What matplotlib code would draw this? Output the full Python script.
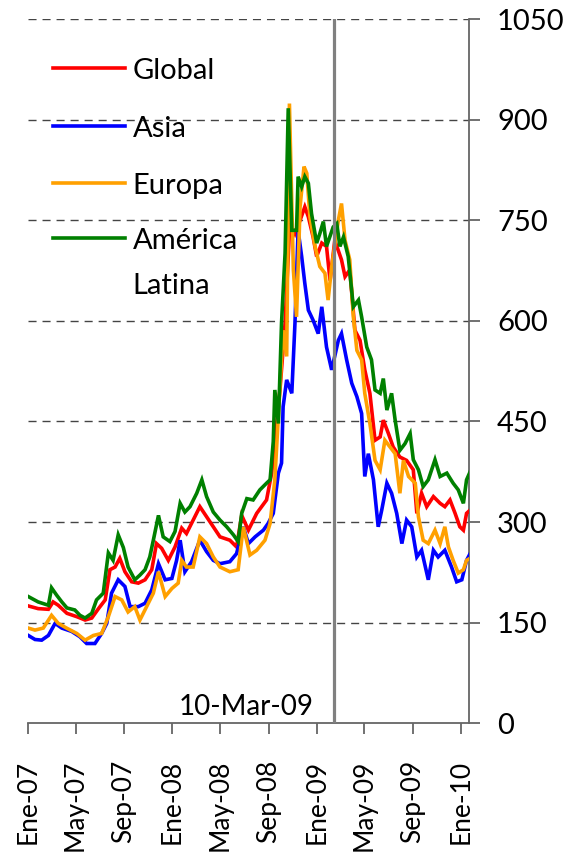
import datetime as dt
import matplotlib
matplotlib.use("Agg")
import matplotlib.pyplot as plt

plt.rcParams['font.family'] = ['Lato', 'DejaVu Sans']

# Days counted from 1 Jan 2007
start = dt.date(2007, 1, 1)

global_day = [0, 25, 51, 63, 76, 98, 123, 144, 161, 178, 195, 207, 220, 232, 245, 262, 279, 296,
              313, 325, 338, 355, 372, 389, 401, 418, 435, 452, 469, 486, 511, 528, 541, 558, 579,
              604, 617, 638, 651, 663, 676, 689, 701, 710, 722, 731, 744, 756, 765, 777, 794, 803,
              815, 828, 841, 853, 866, 879, 892, 900, 913, 925, 942, 959, 976, 985, 997, 1010,
              1027, 1044, 1056, 1069, 1082, 1094, 1103, 1111, 1120]
global_val = [175, 171, 170, 181, 176, 164, 159, 154, 157, 171, 184, 229, 233, 246, 226, 211, 209, 214,
              229, 268, 261, 243, 263, 291, 283, 303, 323, 308, 293, 278, 273, 263, 310, 288, 313,
              333, 373, 497, 597, 746, 730, 750, 770, 755, 725, 696, 716, 711, 660, 720, 691, 666,
              676, 586, 571, 527, 492, 422, 427, 452, 432, 412, 397, 392, 378, 313, 343, 323,
              338, 328, 323, 333, 313, 293, 288, 313, 318]

asia_day = [0, 17, 34, 51, 68, 85, 110, 131, 148, 169, 186, 199, 211, 228, 245, 258, 279, 296,
            313, 330, 347, 364, 376, 385, 397, 414, 435, 452, 469, 486, 511, 528, 545, 558, 575,
            596, 608, 621, 634, 642, 646, 655, 668, 676, 684, 693, 701, 710, 722, 735, 744, 756,
            769, 786, 794, 807, 820, 833, 845, 853, 862, 875, 887, 896, 909, 921, 934, 947, 959,
            972, 985, 997, 1014, 1027, 1039, 1056, 1073, 1086, 1099, 1111, 1120]
asia_val = [131, 125, 124, 131, 149, 142, 137, 129, 119, 119, 134, 149, 194, 214, 204, 174, 174, 179,
            199, 238, 214, 216, 243, 273, 226, 241, 273, 256, 243, 238, 241, 253, 293, 268, 278,
            288, 298, 313, 373, 388, 472, 512, 492, 596, 735, 696, 656, 616, 601, 581, 621, 561,
            527, 571, 581, 542, 507, 487, 462, 368, 402, 363, 293, 318, 358, 343, 313, 268, 303,
            293, 248, 258, 214, 258, 248, 258, 233, 211, 214, 243, 253]

europa_day = [0, 17, 38, 59, 76, 97, 123, 144, 165, 186, 203, 220, 237, 253, 270, 283, 300, 317,
              330, 347, 364, 380, 389, 401, 418, 435, 452, 469, 486, 511, 532, 545, 562, 579, 600,
              613, 625, 646, 655, 662, 672, 680, 689, 699, 706, 714, 727, 739, 752, 760, 769, 786,
              794, 803, 815, 824, 833, 845, 853, 866, 879, 892, 904, 917, 930, 942, 951, 964, 981,
              989, 1001, 1014, 1031, 1044, 1056, 1065, 1077, 1090, 1103, 1111, 1120]
europa_val = [142, 139, 142, 161, 149, 142, 134, 124, 131, 134, 159, 189, 184, 166, 174, 154, 174, 194,
              226, 189, 201, 209, 243, 233, 233, 278, 268, 248, 233, 226, 229, 293, 251, 258, 273,
              298, 363, 586, 547, 924, 676, 606, 770, 830, 820, 755, 711, 681, 671, 631, 680, 750,
              775, 720, 691, 606, 556, 542, 492, 447, 392, 378, 422, 412, 402, 343, 392, 368, 358,
              308, 273, 268, 288, 268, 293, 263, 243, 224, 229, 243, 246]

latam_day = [0, 25, 51, 59, 72, 85, 98, 118, 131, 144, 161, 173, 190, 203, 215, 228, 241, 253,
             270, 283, 296, 308, 317, 330, 342, 359, 372, 385, 397, 410, 427, 440, 452, 469, 486,
             503, 520, 532, 541, 554, 570, 587, 604, 613, 621, 625, 634, 642, 651, 659, 668, 680,
             684, 693, 701, 710, 718, 731, 739, 748, 756, 773, 782, 790, 799, 811, 824, 837, 845,
             858, 870, 879, 892, 900, 909, 921, 930, 942, 955, 968, 976, 989, 1001, 1014, 1031,
             1044, 1061, 1077, 1090, 1103, 1111, 1120]
latam_val = [189, 181, 176, 202, 191, 181, 172, 169, 161, 157, 164, 184, 194, 254, 243, 281, 262, 233,
             214, 221, 229, 248, 273, 310, 278, 271, 286, 328, 315, 323, 343, 363, 338, 315, 303,
             293, 281, 271, 313, 335, 333, 348, 358, 363, 420, 497, 447, 597, 701, 917, 735, 735,
             815, 800, 815, 805, 760, 716, 730, 748, 711, 740, 745, 711, 725, 696, 621, 631, 606,
             561, 542, 497, 492, 514, 467, 492, 452, 407, 417, 432, 393, 378, 353, 363, 393,
             368, 373, 358, 348, 328, 363, 375]

series = [
    ("Global", global_day, global_val, "#ff0000"),
    ("Asia", asia_day, asia_val, "#0000ff"),
    ("Europa", europa_day, europa_val, "#ffa000"),
    ("América\nLatina", latam_day, latam_val, "#008000"),
]

tick_dates = [dt.date(2007, 1, 1), dt.date(2007, 5, 1), dt.date(2007, 9, 1),
              dt.date(2008, 1, 1), dt.date(2008, 5, 1), dt.date(2008, 9, 1),
              dt.date(2009, 1, 1), dt.date(2009, 5, 1), dt.date(2009, 9, 1),
              dt.date(2010, 1, 1)]
tick_labels = ["Ene-07", "May-07", "Sep-07", "Ene-08", "May-08", "Sep-08",
               "Ene-09", "May-09", "Sep-09", "Ene-10"]
y_ticks = [0, 150, 300, 450, 600, 750, 900, 1050]

event_label = "10-Mar-09"
event_date = dt.date(2009, 2, 15)  # where the marker line sits in the source

fig = plt.figure(figsize=(5.69, 8.61), dpi=100)
ax = fig.add_axes([0.0497, 0.1599, 0.7751, 0.8180])

for name, days, vals, color in series:
    dates = [start + dt.timedelta(days=d) for d in days]
    ax.plot(dates, vals, color=color, lw=2.6, solid_joinstyle='miter', zorder=3)

ax.axvline(event_date, color='#808080', lw=2.3, zorder=4)
ax.annotate(event_label, xy=(event_date, 0), xytext=(-15, 6), textcoords='offset points',
            ha='right', va='baseline', fontsize=20)

ax.set_xlim(start, dt.date(2010, 1, 23))
ax.set_ylim(0, 1050)

ax.set_xticks(tick_dates)
ax.set_xticklabels(tick_labels, rotation=90, fontsize=19)
ax.set_yticks(y_ticks)
ax.set_yticklabels([str(v) for v in y_ticks], fontsize=21)
ax.yaxis.tick_right()

for v in y_ticks[1:]:
    ax.axhline(v, color='#444444', lw=1, ls=(0, (5.8, 4.3)), zorder=1)

for side in ['left', 'top']:
    ax.spines[side].set_visible(False)
ax.spines['bottom'].set_color('#666666')
ax.spines['right'].set_color('#666666')
ax.spines['bottom'].set_linewidth(1.3)
ax.spines['right'].set_linewidth(1.3)
ax.tick_params(axis='x', direction='out', length=8, width=1.3, color='#666666', pad=18)
ax.tick_params(axis='y', direction='out', length=8, width=1.3, color='#666666', pad=12)

# hand-made legend: line sits beside the first line of each label
leg_y = [0.930, 0.848, 0.767, 0.689]
line_step = 0.064
for (name, days, vals, color), y in zip(series, leg_y):
    ax.plot([0.056, 0.219], [y, y], color=color, lw=2.6, transform=ax.transAxes)
    for i, part in enumerate(name.split('\n')):
        ax.text(0.237, y - 0.0155 - i * line_step, part, transform=ax.transAxes,
                fontsize=21, va='baseline')

fig.savefig('out.png', dpi=100)
